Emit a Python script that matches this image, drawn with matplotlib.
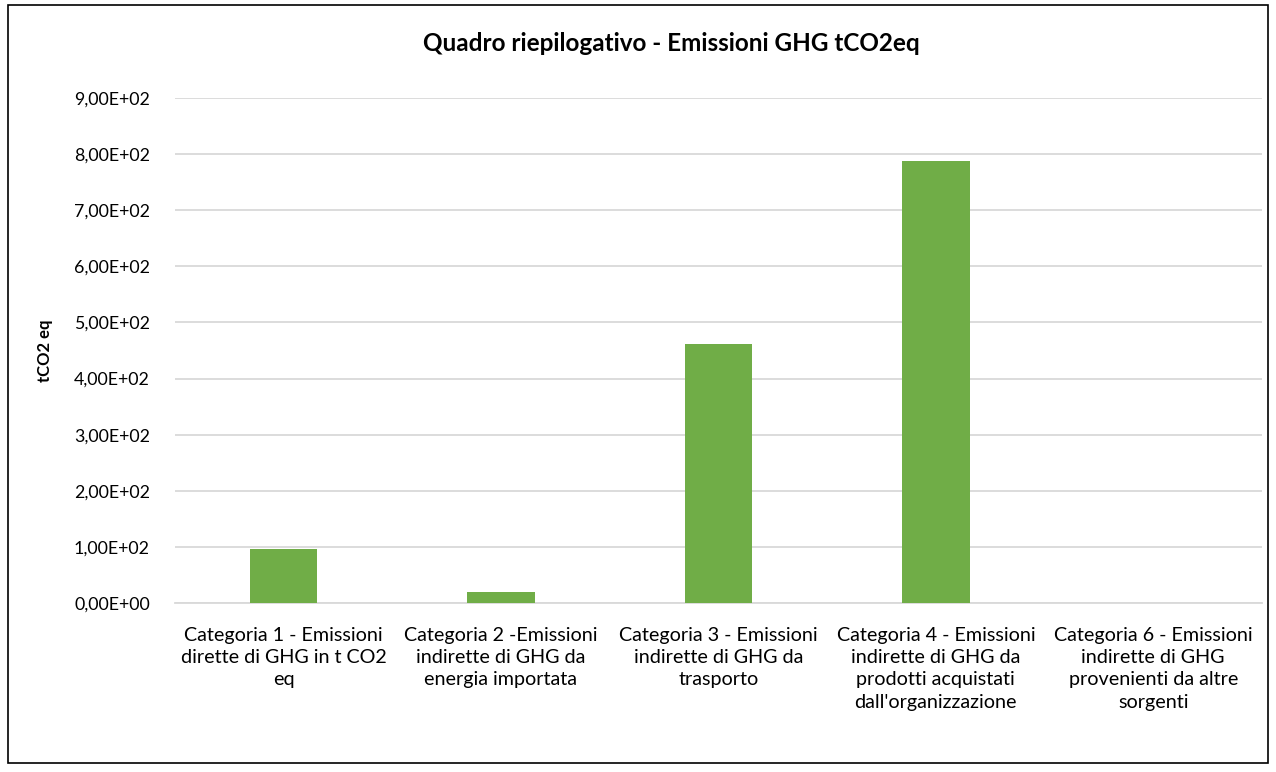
import numpy as np
import matplotlib.pyplot as plt
from matplotlib.ticker import FuncFormatter
from matplotlib.patches import Rectangle

# dati (tCO2 eq)
categorie = [
    "Categoria 1 - Emissioni\ndirette di GHG in t CO2\neq",
    "Categoria 2 -Emissioni\nindirette di GHG da\nenergia importata",
    "Categoria 3 - Emissioni\nindirette di GHG da\ntrasporto",
    "Categoria 4 - Emissioni\nindirette di GHG da\nprodotti acquistati\ndall'organizzazione",
    "Categoria 6 - Emissioni\nindirette di GHG\nprovenienti da altre\nsorgenti",
]
valori = [96.6, 19.5, 461.0, 788.0, 0.0]
tick_y = [0, 100, 200, 300, 400, 500, 600, 700, 800, 900]

plt.rcParams['font.family'] = ['Lato', 'DejaVu Sans']

fig = plt.figure(figsize=(12.76, 7.72), dpi=100)
ax = fig.add_axes([0.137, 0.219, 0.852, 0.654])

x = np.arange(len(categorie))
ax.bar(x, valori, width=0.31, color='#70AD47', zorder=3)

ax.set_xlim(-0.5, len(categorie) - 0.5)
ax.set_ylim(0, 900)
ax.set_yticks(tick_y)
ax.yaxis.set_major_formatter(FuncFormatter(
    lambda v, p: ("%.2E" % v).replace('.', ',')))
ax.set_xticks(x)
ax.set_xticklabels(categorie, fontsize=14.2, linespacing=1.38)
ax.tick_params(axis='y', labelsize=12.8, length=0, pad=18)
ax.tick_params(axis='x', length=0, pad=17)

ax.grid(axis='y', color='#D9D9D9', linewidth=1.3, zorder=0)
for s in ['top', 'right', 'left']:
    ax.spines[s].set_visible(False)
ax.spines['bottom'].set_color('#D9D9D9')
ax.spines['bottom'].set_linewidth(1.3)

ax.set_ylabel('tCO2 eq', fontsize=12, fontweight='bold')
ax.yaxis.set_label_coords(-0.112, 0.5)

fig.text(0.526, 0.944, 'Quadro riepilogativo - Emissioni GHG tCO2eq',
         ha='center', va='center', fontsize=17.5, fontweight='bold')

# cornice del grafico
fig.patches.append(Rectangle((0.006, 0.012), 0.988, 0.982, transform=fig.transFigure,
                             fill=False, edgecolor='black', linewidth=1.2))

fig.savefig('out.png', dpi=100)
